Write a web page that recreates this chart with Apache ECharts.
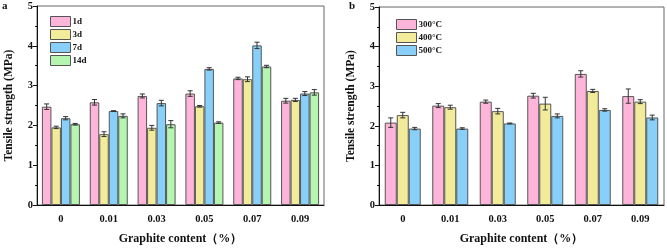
<!DOCTYPE html>
<html>
<head>
<meta charset="utf-8">
<script src="https://cdn.jsdelivr.net/npm/echarts@6/dist/echarts.min.js"></script>
<style>
  html, body { margin: 0; padding: 0; background: #fff; }
  #chart { width: 667px; height: 250px; }
</style>
</head>
<body>
<div id="chart"></div>
<script>
const categories = ['0', '0.01', '0.03', '0.05', '0.07', '0.09']

// panel a: curing age
const ageNames = ['1d', '3d', '7d', '14d']
const age1d = [2.47, 2.58, 2.74, 2.80, 3.18, 2.62]
const age3d = [1.95, 1.78, 1.94, 2.48, 3.16, 2.64]
const age7d = [2.18, 2.36, 2.56, 3.42, 4.01, 2.80]
const age14d = [2.03, 2.24, 2.03, 2.07, 3.48, 2.83]
const err1d = [0.07, 0.07, 0.05, 0.07, 0.03, 0.06]
const err3d = [0.03, 0.06, 0.06, 0.02, 0.06, 0.04]
const err7d = [0.04, 0.01, 0.07, 0.03, 0.08, 0.05]
const err14d = [0.02, 0.05, 0.09, 0.02, 0.03, 0.07]

// panel b: temperature
const tempNames = ['300°C', '400°C', '500°C']
const t300 = [2.08, 2.51, 2.61, 2.76, 3.31, 2.75]
const t400 = [2.27, 2.47, 2.37, 2.56, 2.88, 2.61]
const t500 = [1.93, 1.93, 2.06, 2.25, 2.40, 2.21]
const err300 = [0.12, 0.05, 0.04, 0.06, 0.08, 0.18]
const err400 = [0.07, 0.05, 0.07, 0.16, 0.04, 0.05]
const err500 = [0.03, 0.02, 0.01, 0.05, 0.03, 0.06]

const COLORS = ['#FFB5DA', '#F1EB9A', '#88D0FA', '#B4F5B0']
const FONT = 'Liberation Serif'

const chart = echarts.init(document.getElementById('chart'))

function barSeries (names, groups, axisIdx, barW) {
  return groups.map((vals, i) => ({
    name: names[i],
    type: 'bar',
    xAxisIndex: axisIdx * 2,
    yAxisIndex: axisIdx,
    barWidth: barW,
    barGap: '0%',
    itemStyle: { color: COLORS[i], borderColor: '#555', borderWidth: 1 },
    data: vals
  }))
}

function errorSeries (groups, errs, axisIdx, barW) {
  const data = []
  groups.forEach((vals, s) => vals.forEach((v, c) => data.push([c, v, errs[s][c], s])))
  const n = groups.length
  return {
    type: 'custom',
    xAxisIndex: axisIdx * 2,
    yAxisIndex: axisIdx,
    z: 10,
    encode: { x: 0, y: 1 },
    renderItem: function (params, api) {
      const c = api.value(0)
      const v = api.value(1)
      const e = api.value(2)
      const s = api.value(3)
      const x = api.coord([c, v])[0] + (s - (n - 1) / 2) * barW
      const top = api.coord([c, v + e])[1]
      const bot = api.coord([c, v - e])[1]
      const cap = 2.5
      const style = { stroke: '#333', lineWidth: 1 }
      return {
        type: 'group',
        children: [
          { type: 'line', shape: { x1: x, y1: top, x2: x, y2: bot }, style },
          { type: 'line', shape: { x1: x - cap, y1: top, x2: x + cap, y2: top }, style },
          { type: 'line', shape: { x1: x - cap, y1: bot, x2: x + cap, y2: bot }, style }
        ]
      }
    },
    data
  }
}

function mainX (gridIndex) {
  return {
    type: 'category',
    gridIndex,
    data: categories,
    name: 'Graphite content（%）',
    nameLocation: 'middle',
    nameGap: 28,
    nameTextStyle: { fontFamily: FONT, fontWeight: 'bold', fontSize: 12, color: '#111' },
    axisLine: { lineStyle: { color: '#111', width: 1 } },
    axisTick: { alignWithLabel: true, length: 4, inside: false, lineStyle: { color: '#111' } },
    axisLabel: { margin: 9, fontFamily: FONT, fontWeight: 'bold', fontSize: 10.5, color: '#111' },
    splitLine: { show: false }
  }
}

function minorX (gridIndex) {
  return {
    type: 'category',
    gridIndex,
    data: categories,
    position: 'bottom',
    axisLine: { show: false },
    axisTick: { length: 2, lineStyle: { color: '#111' } },
    axisLabel: { show: false },
    splitLine: { show: false }
  }
}

function mainY (gridIndex, nameGap) {
  return {
    type: 'value',
    gridIndex,
    min: 0,
    max: 5,
    interval: 1,
    name: 'Tensile strength (MPa)',
    nameLocation: 'middle',
    nameGap,
    nameTextStyle: { fontFamily: FONT, fontWeight: 'bold', fontSize: 11.5, color: '#111' },
    axisLine: { show: true, lineStyle: { color: '#111', width: 1 } },
    axisTick: { show: true, length: 4, lineStyle: { color: '#111' } },
    minorTick: { show: true, splitNumber: 2, length: 2, lineStyle: { color: '#111' } },
    axisLabel: { margin: 4, fontFamily: FONT, fontWeight: 'bold', fontSize: 10.5, color: '#111' },
    splitLine: { show: false }
  }
}

function legend (names, left, top) {
  return {
    data: names,
    orient: 'vertical',
    left,
    top,
    itemWidth: 20,
    itemHeight: 10,
    itemGap: 2,
    icon: 'rect',
    itemStyle: { borderColor: '#555', borderWidth: 1 },
    textStyle: { fontFamily: FONT, fontWeight: 'bold', fontSize: 9, color: '#111', padding: [0, 0, 0, -3] }
  }
}

chart.setOption({
  animation: false,
  graphic: [
    { type: 'text', left: 2, top: 1, style: { text: 'a', fontFamily: FONT, fontWeight: 'bold', fontSize: 11, fill: '#111' } },
    { type: 'text', left: 349, top: 1, style: { text: 'b', fontFamily: FONT, fontWeight: 'bold', fontSize: 11, fill: '#111' } }
  ],
  legend: [legend(ageNames, 45, 11), legend(tempNames, 391, 14)],
  grid: [
    { left: 37, right: 343, top: 6, bottom: 39, show: true, borderColor: '#666', borderWidth: 1 },
    { left: 379, right: 3, top: 7, bottom: 38, show: true, borderColor: '#666', borderWidth: 1 }
  ],
  xAxis: [mainX(0), minorX(0), mainX(1), minorX(1)],
  yAxis: [mainY(0, 22), mainY(1, 22)],
  series: [
    ...barSeries(ageNames, [age1d, age3d, age7d, age14d], 0, 9.5),
    errorSeries([age1d, age3d, age7d, age14d], [err1d, err3d, err7d, err14d], 0, 9.5),
    ...barSeries(tempNames, [t300, t400, t500], 1, 12),
    errorSeries([t300, t400, t500], [err300, err400, err500], 1, 12)
  ]
})
</script>
</body>
</html>
